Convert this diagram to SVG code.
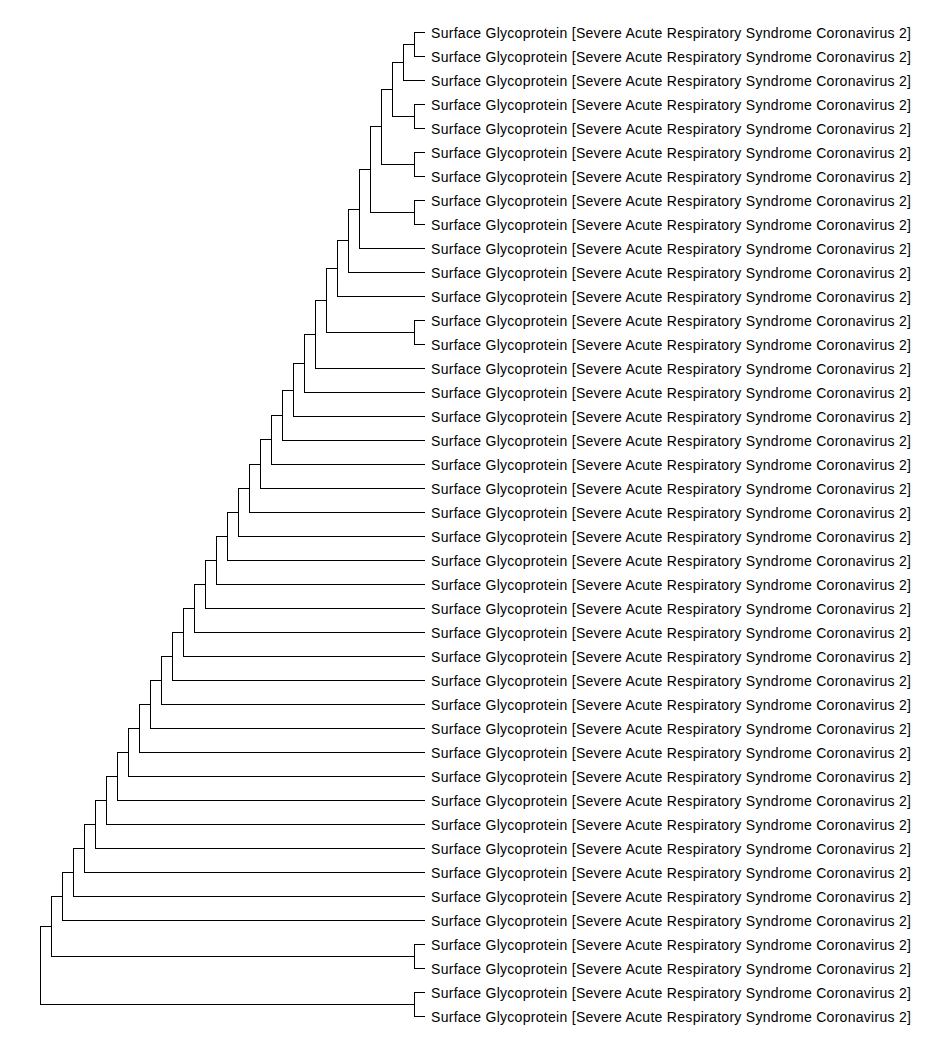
<svg xmlns="http://www.w3.org/2000/svg" width="948" height="1052" viewBox="0 0 948 1052">
<style>
.e{fill:none;stroke:#000;stroke-width:1;shape-rendering:crispEdges}
.t{font-family:"Liberation Sans",Arial,sans-serif;font-size:14px;fill:#000}
</style>
<rect width="948" height="1052" fill="#fff"/>
<g id="connectors" class="e" transform="translate(0.5,0.5)">
<path d="M424 32H414V56H424"/>
<path d="M414 44H403V80H424"/>
<path d="M424 104H414V128H424"/>
<path d="M403 62H392V116H414"/>
<path d="M424 152H414V176H424"/>
<path d="M392 89H381V164H414"/>
<path d="M424 200H414V224H424"/>
<path d="M381 126H370V212H414"/>
<path d="M370 169H359V248H424"/>
<path d="M359 209H348V272H424"/>
<path d="M348 240H337V296H424"/>
<path d="M424 320H414V344H424"/>
<path d="M337 268H326V332H414"/>
<path d="M326 300H315V368H424"/>
<path d="M315 334H304V392H424"/>
<path d="M304 363H293V416H424"/>
<path d="M293 390H282V440H424"/>
<path d="M282 415H271V464H424"/>
<path d="M271 439H260V488H424"/>
<path d="M260 464H249V512H424"/>
<path d="M249 488H238V536H424"/>
<path d="M238 512H227V560H424"/>
<path d="M227 536H216V584H424"/>
<path d="M216 560H205V608H424"/>
<path d="M205 584H194V632H424"/>
<path d="M194 608H183V656H424"/>
<path d="M183 632H172V680H424"/>
<path d="M172 656H161V704H424"/>
<path d="M161 680H150V728H424"/>
<path d="M150 704H139V752H424"/>
<path d="M139 728H128V776H424"/>
<path d="M128 752H117V800H424"/>
<path d="M117 776H106V824H424"/>
<path d="M106 800H95V848H424"/>
<path d="M95 824H84V872H424"/>
<path d="M84 848H73V896H424"/>
<path d="M73 872H62V920H424"/>
<path d="M424 944H414V968H424"/>
<path d="M62 896H51V956H414"/>
<path d="M424 992H414V1016H424"/>
<path d="M51 926H40V1004H414"/>
</g>
<g class="t">
<g id="leaf0"><text x="431" y="38" textLength="480" lengthAdjust="spacing">Surface Glycoprotein [Severe Acute Respiratory Syndrome Coronavirus 2]</text></g>
<g id="leaf1"><text x="431" y="62" textLength="480" lengthAdjust="spacing">Surface Glycoprotein [Severe Acute Respiratory Syndrome Coronavirus 2]</text></g>
<g id="leaf2"><text x="431" y="86" textLength="480" lengthAdjust="spacing">Surface Glycoprotein [Severe Acute Respiratory Syndrome Coronavirus 2]</text></g>
<g id="leaf3"><text x="431" y="110" textLength="480" lengthAdjust="spacing">Surface Glycoprotein [Severe Acute Respiratory Syndrome Coronavirus 2]</text></g>
<g id="leaf4"><text x="431" y="134" textLength="480" lengthAdjust="spacing">Surface Glycoprotein [Severe Acute Respiratory Syndrome Coronavirus 2]</text></g>
<g id="leaf5"><text x="431" y="158" textLength="480" lengthAdjust="spacing">Surface Glycoprotein [Severe Acute Respiratory Syndrome Coronavirus 2]</text></g>
<g id="leaf6"><text x="431" y="182" textLength="480" lengthAdjust="spacing">Surface Glycoprotein [Severe Acute Respiratory Syndrome Coronavirus 2]</text></g>
<g id="leaf7"><text x="431" y="206" textLength="480" lengthAdjust="spacing">Surface Glycoprotein [Severe Acute Respiratory Syndrome Coronavirus 2]</text></g>
<g id="leaf8"><text x="431" y="230" textLength="480" lengthAdjust="spacing">Surface Glycoprotein [Severe Acute Respiratory Syndrome Coronavirus 2]</text></g>
<g id="leaf9"><text x="431" y="254" textLength="480" lengthAdjust="spacing">Surface Glycoprotein [Severe Acute Respiratory Syndrome Coronavirus 2]</text></g>
<g id="leaf10"><text x="431" y="278" textLength="480" lengthAdjust="spacing">Surface Glycoprotein [Severe Acute Respiratory Syndrome Coronavirus 2]</text></g>
<g id="leaf11"><text x="431" y="302" textLength="480" lengthAdjust="spacing">Surface Glycoprotein [Severe Acute Respiratory Syndrome Coronavirus 2]</text></g>
<g id="leaf12"><text x="431" y="326" textLength="480" lengthAdjust="spacing">Surface Glycoprotein [Severe Acute Respiratory Syndrome Coronavirus 2]</text></g>
<g id="leaf13"><text x="431" y="350" textLength="480" lengthAdjust="spacing">Surface Glycoprotein [Severe Acute Respiratory Syndrome Coronavirus 2]</text></g>
<g id="leaf14"><text x="431" y="374" textLength="480" lengthAdjust="spacing">Surface Glycoprotein [Severe Acute Respiratory Syndrome Coronavirus 2]</text></g>
<g id="leaf15"><text x="431" y="398" textLength="480" lengthAdjust="spacing">Surface Glycoprotein [Severe Acute Respiratory Syndrome Coronavirus 2]</text></g>
<g id="leaf16"><text x="431" y="422" textLength="480" lengthAdjust="spacing">Surface Glycoprotein [Severe Acute Respiratory Syndrome Coronavirus 2]</text></g>
<g id="leaf17"><text x="431" y="446" textLength="480" lengthAdjust="spacing">Surface Glycoprotein [Severe Acute Respiratory Syndrome Coronavirus 2]</text></g>
<g id="leaf18"><text x="431" y="470" textLength="480" lengthAdjust="spacing">Surface Glycoprotein [Severe Acute Respiratory Syndrome Coronavirus 2]</text></g>
<g id="leaf19"><text x="431" y="494" textLength="480" lengthAdjust="spacing">Surface Glycoprotein [Severe Acute Respiratory Syndrome Coronavirus 2]</text></g>
<g id="leaf20"><text x="431" y="518" textLength="480" lengthAdjust="spacing">Surface Glycoprotein [Severe Acute Respiratory Syndrome Coronavirus 2]</text></g>
<g id="leaf21"><text x="431" y="542" textLength="480" lengthAdjust="spacing">Surface Glycoprotein [Severe Acute Respiratory Syndrome Coronavirus 2]</text></g>
<g id="leaf22"><text x="431" y="566" textLength="480" lengthAdjust="spacing">Surface Glycoprotein [Severe Acute Respiratory Syndrome Coronavirus 2]</text></g>
<g id="leaf23"><text x="431" y="590" textLength="480" lengthAdjust="spacing">Surface Glycoprotein [Severe Acute Respiratory Syndrome Coronavirus 2]</text></g>
<g id="leaf24"><text x="431" y="614" textLength="480" lengthAdjust="spacing">Surface Glycoprotein [Severe Acute Respiratory Syndrome Coronavirus 2]</text></g>
<g id="leaf25"><text x="431" y="638" textLength="480" lengthAdjust="spacing">Surface Glycoprotein [Severe Acute Respiratory Syndrome Coronavirus 2]</text></g>
<g id="leaf26"><text x="431" y="662" textLength="480" lengthAdjust="spacing">Surface Glycoprotein [Severe Acute Respiratory Syndrome Coronavirus 2]</text></g>
<g id="leaf27"><text x="431" y="686" textLength="480" lengthAdjust="spacing">Surface Glycoprotein [Severe Acute Respiratory Syndrome Coronavirus 2]</text></g>
<g id="leaf28"><text x="431" y="710" textLength="480" lengthAdjust="spacing">Surface Glycoprotein [Severe Acute Respiratory Syndrome Coronavirus 2]</text></g>
<g id="leaf29"><text x="431" y="734" textLength="480" lengthAdjust="spacing">Surface Glycoprotein [Severe Acute Respiratory Syndrome Coronavirus 2]</text></g>
<g id="leaf30"><text x="431" y="758" textLength="480" lengthAdjust="spacing">Surface Glycoprotein [Severe Acute Respiratory Syndrome Coronavirus 2]</text></g>
<g id="leaf31"><text x="431" y="782" textLength="480" lengthAdjust="spacing">Surface Glycoprotein [Severe Acute Respiratory Syndrome Coronavirus 2]</text></g>
<g id="leaf32"><text x="431" y="806" textLength="480" lengthAdjust="spacing">Surface Glycoprotein [Severe Acute Respiratory Syndrome Coronavirus 2]</text></g>
<g id="leaf33"><text x="431" y="830" textLength="480" lengthAdjust="spacing">Surface Glycoprotein [Severe Acute Respiratory Syndrome Coronavirus 2]</text></g>
<g id="leaf34"><text x="431" y="854" textLength="480" lengthAdjust="spacing">Surface Glycoprotein [Severe Acute Respiratory Syndrome Coronavirus 2]</text></g>
<g id="leaf35"><text x="431" y="878" textLength="480" lengthAdjust="spacing">Surface Glycoprotein [Severe Acute Respiratory Syndrome Coronavirus 2]</text></g>
<g id="leaf36"><text x="431" y="902" textLength="480" lengthAdjust="spacing">Surface Glycoprotein [Severe Acute Respiratory Syndrome Coronavirus 2]</text></g>
<g id="leaf37"><text x="431" y="926" textLength="480" lengthAdjust="spacing">Surface Glycoprotein [Severe Acute Respiratory Syndrome Coronavirus 2]</text></g>
<g id="leaf38"><text x="431" y="950" textLength="480" lengthAdjust="spacing">Surface Glycoprotein [Severe Acute Respiratory Syndrome Coronavirus 2]</text></g>
<g id="leaf39"><text x="431" y="974" textLength="480" lengthAdjust="spacing">Surface Glycoprotein [Severe Acute Respiratory Syndrome Coronavirus 2]</text></g>
<g id="leaf40"><text x="431" y="998" textLength="480" lengthAdjust="spacing">Surface Glycoprotein [Severe Acute Respiratory Syndrome Coronavirus 2]</text></g>
<g id="leaf41"><text x="431" y="1022" textLength="480" lengthAdjust="spacing">Surface Glycoprotein [Severe Acute Respiratory Syndrome Coronavirus 2]</text></g>
</g>
</svg>
